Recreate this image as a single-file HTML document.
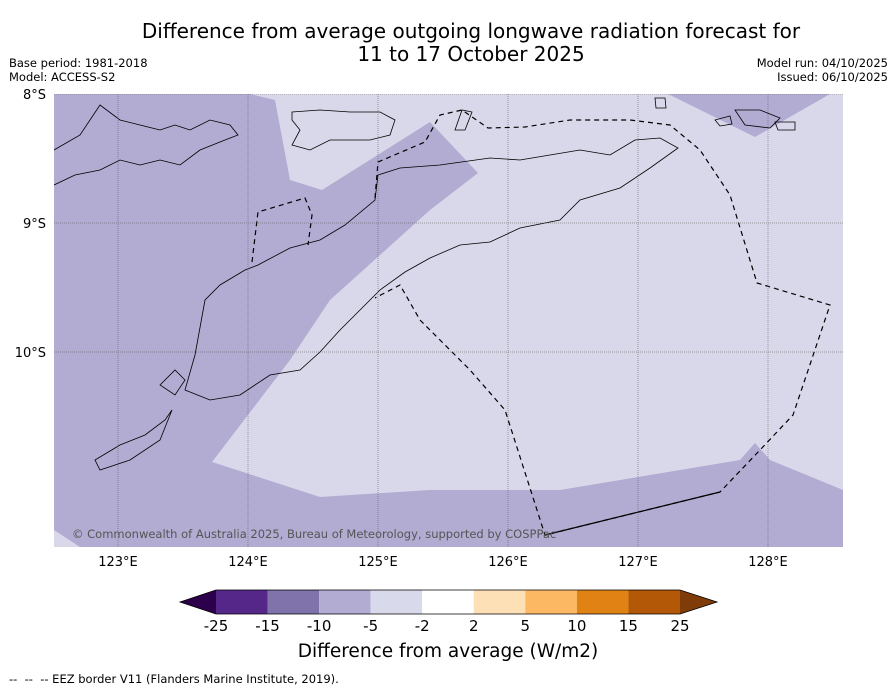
<!DOCTYPE html>
<html><head><meta charset="utf-8">
<style>
body{margin:0;background:#fff;width:896px;height:690px;overflow:hidden;font-family:"Liberation Sans","DejaVu Sans",sans-serif;position:relative}
.t{position:absolute;white-space:nowrap}
</style></head><body>
<div class="t" style="left:0;width:942px;top:20px;text-align:center;font-size:20px;line-height:23px;font-family:'DejaVu Sans',sans-serif">Difference from average outgoing longwave radiation forecast for<br>11 to 17 October 2025</div>
<div class="t" style="left:9px;top:56px;font-size:11.5px;line-height:14px;font-family:'DejaVu Sans',sans-serif">Base period: 1981-2018<br>Model: ACCESS-S2</div>
<div class="t" style="right:8px;top:56px;font-size:11.5px;line-height:14px;text-align:right;font-family:'DejaVu Sans',sans-serif">Model run: 04/10/2025<br>Issued: 06/10/2025</div>
<svg id="map" width="896" height="690" style="position:absolute;left:0;top:0"></svg>
<div class="t" style="left:9px;top:672px;font-size:11.5px;font-family:'DejaVu Sans',sans-serif">-- &nbsp;-- &nbsp;-- EEZ border V11 (Flanders Marine Institute, 2019).</div>
<script>
const lonTicks=[123,124,125,126,127,128];
const latTicks=[8,9,10];
const cbLevels=["-25","-15","-10","-5","-2","2","5","10","15","25"];
const cbColors=["#542788","#8073ac","#b2abd2","#d8daeb","#ffffff","#fee0b6","#fdb863","#e08214","#b35806"];
const NS="http://www.w3.org/2000/svg";
const svg=document.getElementById('map');
const X0=54,X1=843,Y0=94,Y1=547;
function lx(lon){return 118+(lon-123)*130;}
function ly(lat){return 94+(lat-8)*129;}
function mk(tag,attrs,parent){const e=document.createElementNS(NS,tag);for(const k in attrs)e.setAttribute(k,attrs[k]);(parent||svg).appendChild(e);return e;}
const cp=mk('clipPath',{id:'cp'});mk('rect',{x:X0,y:Y0,width:X1-X0,height:Y1-Y0},cp);
const g=mk('g',{'clip-path':'url(#cp)'});
let r=mk('rect',{x:X0,y:Y0,width:X1-X0,height:Y1-Y0,fill:'#d8d8ea'},g);

let p=mk('path',{fill:'#b2abd2',d:'M54,94 L250,94 L275,100 L290,180 L322,190 L430,122 L478,173 L430,210 L330,300 L290,360 L212,462 L320,497 L430,490 L560,490 L740,460 L755,443 L770,460 L843,490 L843,547 L80,547 L54,530 Z M668,94 L830,94 L755,137 Z'},g);

const coast=['M54,150 L80,135 L100,105 L120,120 L140,125 L160,130 L175,125 L190,130 L210,120 L230,125 L238,135 L225,140 L200,150 L180,165 L160,160 L140,165 L120,160 L100,170 L75,175 L54,185',
'M292,112 L320,110 L350,112 L380,112 L395,120 L390,135 L370,140 L330,140 L310,150 L292,145 L300,130 L292,120 Z',
'M258,265 L290,248 L320,240 L345,225 L375,200 L378,175 L400,168 L440,165 L490,158 L520,160 L550,155 L580,150 L610,155 L635,140 L660,138 L678,148 L650,168 L620,188 L580,200 L560,220 L520,228 L490,242 L460,245 L430,258 L405,272 L380,290 L360,310 L340,330 L320,352 L300,370 L270,375 L240,395 L210,400 L185,390 L195,355 L205,300 L220,285 L245,270 Z',
'M160,385 L175,370 L185,380 L175,395 Z','M95,460 L120,445 L145,435 L165,420 L172,410 L160,440 L130,460 L100,470 Z',
'M455,130 L462,110 L472,112 L465,130 Z','M655,98 L665,98 L666,108 L656,108 Z','M735,110 L760,110 L780,118 L770,128 L745,125 Z','M775,122 L795,122 L795,130 L778,130 Z','M715,120 L730,116 L732,124 L720,126 Z'];
coast.forEach(d=>{const c=mk('path',{d:d,fill:'none',stroke:'#000','stroke-width':0.8},g);});
const eez=['M375,198 L378,162 L425,142 L440,115 L462,110 L488,128 L525,127 L570,120 L630,120 L670,125 L700,150 L730,195 L757,283 L830,305 L793,415 L760,450 L720,492 L545,535 L505,410 L470,370 L420,320 L400,285 L375,298',
'M252,262 L258,212 L305,198 L312,215 L308,245'];
eez.forEach(d=>{const c=mk('path',{d:d,fill:'none',stroke:'#000','stroke-width':1.2,'stroke-dasharray':'5,4'},g);});
mk('path',{d:'M545,535 L720,492',stroke:'#000','stroke-width':1.2,fill:'none'},g);
lonTicks.forEach(l=>{const x=lx(l);const gl=mk('line',{x1:x,x2:x,y1:Y0,y2:Y1,stroke:'#555','stroke-width':0.5,'stroke-dasharray':'1,1'},g);
const t=mk('text',{x:x,y:566,'text-anchor':'middle','font-size':13,'font-family':'DejaVu Sans,sans-serif'});t.textContent=l+'°E';});
latTicks.forEach(l=>{const y=ly(l);const gl=mk('line',{x1:X0,x2:X1,y1:y,y2:y,stroke:'#555','stroke-width':0.5,'stroke-dasharray':'1,1'},g);
const t=mk('text',{x:46,y:y+5,'text-anchor':'end','font-size':13,'font-family':'DejaVu Sans,sans-serif'});t.textContent=l+'°S';});
let cr=mk('text',{x:72,y:538,'font-size':11.5,fill:'#555','font-family':'DejaVu Sans,sans-serif'});cr.textContent='© Commonwealth of Australia 2025, Bureau of Meteorology, supported by COSPPac';

const cbX=216,cbW=464,cbY=590,cbH=24,bw=cbW/cbColors.length;
cbColors.forEach((c,i)=>{const b=mk('rect',{x:cbX+i*bw,y:cbY,width:bw,height:cbH,fill:c});});
let e1=mk('path',{d:`M${cbX},${cbY} L180,${cbY+cbH/2} L${cbX},${cbY+cbH} Z`,fill:'#2d004b'});
let e2=mk('path',{d:`M${cbX+cbW},${cbY} L717,${cbY+cbH/2} L${cbX+cbW},${cbY+cbH} Z`,fill:'#7f3b08'});
mk('path',{d:`M${cbX},${cbY} L180,${cbY+cbH/2} L${cbX},${cbY+cbH} L${cbX+cbW},${cbY+cbH} L717,${cbY+cbH/2} L${cbX+cbW},${cbY} Z`,fill:'none',stroke:'#000','stroke-width':0.8});
cbLevels.forEach((v,i)=>{const t=mk('text',{x:cbX+i*bw,y:631,'text-anchor':'middle','font-size':15,'font-family':'DejaVu Sans,sans-serif'});t.textContent=v;});
let ct=mk('text',{x:448,y:657,'text-anchor':'middle','font-size':18.5,'font-family':'DejaVu Sans,sans-serif'});ct.textContent='Difference from average (W/m2)';

</script>
</body></html>
